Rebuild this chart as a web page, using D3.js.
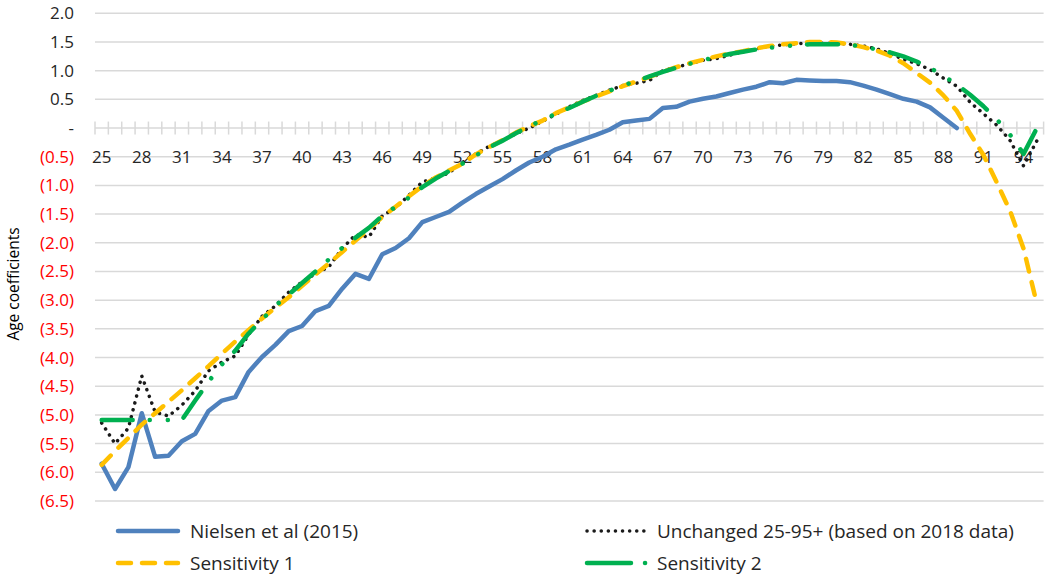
<!DOCTYPE html>
<html>
<head>
<meta charset="utf-8">
<script src="https://cdn.jsdelivr.net/npm/d3@7"></script>
<style>
  body { margin: 0; background: #fff; }
  svg { display: block; font-family: "Open Sans", "DejaVu Sans", sans-serif; }
</style>
</head>
<body>
<div id="chart"></div>
<script>
// categories (age) and tick values
var ages = d3.range(25, 96);
var xLabels = ["25","28","31","34","37","40","43","46","49","52","55","58","61","64","67","70","73","76","79","82","85","88","91","94"];
var yTicks = [2.0, 1.5, 1.0, 0.5, 0, -0.5, -1.0, -1.5, -2.0, -2.5, -3.0, -3.5, -4.0, -4.5, -5.0, -5.5, -6.0, -6.5];

// Nielsen et al (2015), ages 25-89
var nielsen = [-5.85, -6.29, -5.91, -4.97, -5.73, -5.71, -5.46, -5.33, -4.93, -4.75,
  -4.69, -4.25, -3.99, -3.78, -3.54, -3.45, -3.19, -3.10, -2.80, -2.54,
  -2.63, -2.20, -2.09, -1.92, -1.64, -1.55, -1.46, -1.30, -1.15, -1.02,
  -0.89, -0.74, -0.60, -0.50, -0.37, -0.29, -0.20, -0.12, -0.03, 0.10,
  0.13, 0.16, 0.35, 0.37, 0.46, 0.51, 0.55, 0.61, 0.67, 0.72,
  0.80, 0.78, 0.84, 0.83, 0.82, 0.82, 0.80, 0.74, 0.67, 0.59,
  0.51, 0.46, 0.36, 0.18, 0.00];

// Unchanged 25-95+ (based on 2018 data)
var unchanged = [-5.14, -5.50, -5.23, -4.32, -4.95, -5.02, -4.83, -4.58, -4.23, -4.08,
  -3.97, -3.60, -3.28, -3.10, -2.86, -2.68, -2.54, -2.42, -2.10, -1.86,
  -1.90, -1.53, -1.39, -1.17, -0.94, -0.87, -0.78, -0.60, -0.45, -0.32,
  -0.22, -0.10, 0.00, 0.12, 0.24, 0.37, 0.48, 0.57, 0.66, 0.74,
  0.78, 0.83, 1.00, 1.06, 1.12, 1.18, 1.21, 1.27, 1.33, 1.38,
  1.43, 1.45, 1.47, 1.48, 1.48, 1.48, 1.46, 1.43, 1.38, 1.30,
  1.20, 1.12, 1.02, 0.87, 0.73, 0.45, 0.25, 0.05, -0.22, -0.66,
  -0.22];

// Sensitivity 1
var sens1 = [-5.87, -5.63, -5.40, -5.17, -4.97, -4.77, -4.57, -4.36, -4.15, -3.93,
  -3.72, -3.52, -3.32, -3.13, -2.95, -2.75, -2.55, -2.36, -2.16, -1.96,
  -1.76, -1.55, -1.37, -1.19, -1.01, -0.86, -0.74, -0.62, -0.46, -0.33,
  -0.21, -0.08, 0.03, 0.13, 0.26, 0.36, 0.46, 0.55, 0.64, 0.73,
  0.81, 0.89, 0.98, 1.06, 1.13, 1.19, 1.25, 1.30, 1.34, 1.39,
  1.43, 1.46, 1.48, 1.50, 1.50, 1.49, 1.46, 1.41, 1.35, 1.26,
  1.13, 0.96, 0.79, 0.57, 0.30, -0.10, -0.47, -0.95, -1.45, -2.10,
  -3.07];

// Sensitivity 2
var sens2 = [-5.09, -5.09, -5.09, -5.09, -5.09, -5.09, -5.09, -4.75, -4.42, -4.12,
  -3.88, -3.58, -3.34, -3.10, -2.90, -2.70, -2.50, -2.29, -2.09, -1.91,
  -1.74, -1.53, -1.37, -1.21, -1.03, -0.88, -0.75, -0.62, -0.48, -0.34,
  -0.22, -0.09, 0.03, 0.14, 0.25, 0.35, 0.46, 0.56, 0.65, 0.74,
  0.82, 0.90, 0.98, 1.05, 1.12, 1.18, 1.24, 1.29, 1.33, 1.37,
  1.40, 1.42, 1.45, 1.46, 1.46, 1.46, 1.45, 1.42, 1.37, 1.32,
  1.25, 1.16, 1.05, 0.91, 0.76, 0.58, 0.38, 0.15, -0.12, -0.45,
  0.00];

var seriesNames = ["Nielsen et al (2015)", "Unchanged 25-95+ (based on 2018 data)", "Sensitivity 1", "Sensitivity 2"];

var width = 1047, height = 579;
var plotLeft = 95, plotRight = 1043.6, plotTop = 13.3, plotBottom = 501;

var svg = d3.select("#chart").append("svg")
  .attr("width", width)
  .attr("height", height);

var x = d3.scaleBand().domain(ages).range([plotLeft, plotRight]).padding(0);
var y = d3.scaleLinear().domain([-6.5, 2.0]).range([plotBottom, plotTop]);

function cx(a) { return x(a) + x.bandwidth() / 2; }

function fmt(v) {
  if (v === 0) return "-";
  if (v < 0) return "(" + (-v).toFixed(1) + ")";
  return v.toFixed(1);
}

// gridlines
svg.append("g").attr("class", "grid")
  .selectAll("line")
  .data(yTicks.filter(function (d) { return d !== 0; }))
  .enter().append("line")
  .attr("x1", plotLeft).attr("x2", plotRight)
  .attr("y1", function (d) { return y(d); })
  .attr("y2", function (d) { return y(d); })
  .attr("stroke", "#d9d9d9")
  .attr("stroke-width", 1.5);

// y labels
svg.append("g").attr("class", "y axis")
  .selectAll("text")
  .data(yTicks)
  .enter().append("text")
  .attr("x", 74)
  .attr("y", function (d) { return y(d); })
  .attr("dy", "0.35em")
  .attr("text-anchor", "end")
  .style("font-size", "17px")
  .style("fill", function (d) { return d < 0 ? "#ff0000" : "#262626"; })
  .text(fmt);

// x axis at zero with crossing ticks
var xAxis = svg.append("g").attr("class", "x axis");
xAxis.append("line")
  .attr("x1", plotLeft).attr("x2", plotRight)
  .attr("y1", y(0)).attr("y2", y(0))
  .attr("stroke", "#d9d9d9").attr("stroke-width", 1.5);

xAxis.selectAll("line.tick")
  .data(ages.concat([96]))
  .enter().append("line")
  .attr("class", "tick")
  .attr("x1", function (d) { return d === 96 ? plotRight : x(d); })
  .attr("x2", function (d) { return d === 96 ? plotRight : x(d); })
  .attr("y1", y(0) - 6.5).attr("y2", y(0) + 6.5)
  .attr("stroke", "#d9d9d9").attr("stroke-width", 1.5);

xAxis.selectAll("text")
  .data(xLabels)
  .enter().append("text")
  .attr("x", function (d) { return cx(+d); })
  .attr("y", 157)
  .attr("dy", "0.35em")
  .attr("text-anchor", "middle")
  .style("font-size", "17px")
  .style("fill", "#262626")
  .text(function (d) { return d; });

// y axis title
svg.append("text")
  .attr("transform", "translate(19,284) rotate(-90)")
  .attr("text-anchor", "middle")
  .style("font-size", "15.5px")
  .style("fill", "#000")
  .text("Age coefficients");

var styles = [
  { color: "#4f81bd", width: 4.5, dash: null, cap: "round" },
  { color: "#1a1a1a", width: 3.5, dash: "0.1 7", cap: "round" },
  { color: "#ffc000", width: 4.5, dash: "13 11", cap: "round" },
  { color: "#00b050", width: 4.5, dash: "31 17 0.1 18 0.1 17", cap: "round" }
];

var allSeries = [nielsen, unchanged, sens1, sens2];

var line = d3.line()
  .x(function (d) { return cx(d.age); })
  .y(function (d) { return y(d.value); });

allSeries.forEach(function (vals, i) {
  var pts = vals.map(function (v, j) { return { age: ages[j], value: v }; });
  var s = styles[i];
  svg.append("path")
    .datum(pts)
    .attr("class", "line")
    .attr("d", line)
    .attr("fill", "none")
    .attr("stroke", s.color)
    .attr("stroke-width", s.width)
    .attr("stroke-linecap", s.cap)
    .attr("stroke-linejoin", "round")
    .attr("stroke-dasharray", s.dash);
});

// legend
var legendPos = [
  { x: 118, y: 531, tx: 190 },
  { x: 587, y: 531, tx: 657 },
  { x: 118, y: 563, tx: 190 },
  { x: 587, y: 563, tx: 657 }
];

var legend = svg.append("g").attr("class", "legend");
seriesNames.forEach(function (name, i) {
  var p = legendPos[i], s = styles[i];
  legend.append("line")
    .attr("x1", p.x).attr("x2", p.x + 60)
    .attr("y1", p.y).attr("y2", p.y)
    .attr("stroke", s.color)
    .attr("stroke-width", s.width)
    .attr("stroke-linecap", s.cap)
    .attr("stroke-dasharray", i === 3 ? "44 14 0.1 40" : s.dash);
  legend.append("text")
    .attr("x", p.tx)
    .attr("y", p.y)
    .attr("dy", "0.35em")
    .style("font-size", "19px")
    .style("fill", "#262626")
    .text(name);
});
</script>
</body>
</html>
